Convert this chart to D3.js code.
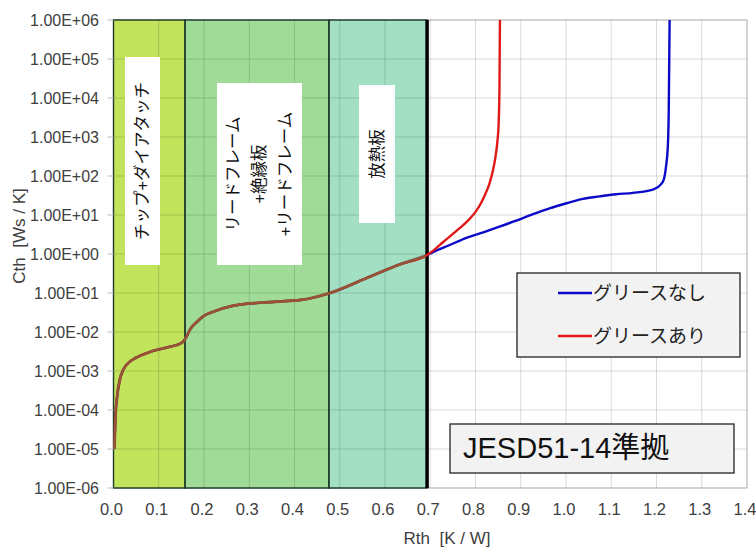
<!DOCTYPE html>
<html>
<head>
<meta charset="utf-8">
<script src="https://cdn.jsdelivr.net/npm/d3@7"></script>
<style>
    body { margin: 0; background: #fff; }
    text { font-family: "Liberation Sans", Arial, "Noto Sans CJK JP", sans-serif; white-space: pre; }
</style>
</head>
<body>
<script>
//shared part of the curve (both series lie on top of each other)
var sharedRth = [0.002, 0.004, 0.008, 0.014, 0.022, 0.035, 0.050, 0.081, 0.125, 0.150, 0.158, 0.170, 0.184, 0.200, 0.220, 0.264, 0.338, 0.412, 0.476, 0.559, 0.633, 0.690];
var sharedCth = [1.0e-5, 6e-5, 2.2e-4, 6e-4, 1.1e-3, 1.7e-3, 2.2e-3, 3.1e-3, 4.2e-3, 5.2e-3, 6.5e-3, 1.2e-2, 1.8e-2, 2.6e-2, 3.3e-2, 4.7e-2, 5.8e-2, 6.6e-2, 9.8e-2, 2.4e-1, 5.4e-1, 9.0e-1];

//tail of series without grease
var blueRth = [0.705, 0.743, 0.780, 0.817, 0.853, 0.890, 0.927, 0.965, 1.001, 1.037, 1.074, 1.111, 1.148, 1.192, 1.214, 1.221, 1.225, 1.227, 1.229];
var blueCth = [1.1, 1.7, 2.6, 3.6, 5.0, 7.2, 10.5, 15, 20, 26, 30, 34, 37, 45, 71, 174, 560, 4000, 1e6];

//tail of series with grease
var redRth = [0.706, 0.728, 0.765, 0.785, 0.800, 0.812, 0.822, 0.831, 0.838, 0.844, 0.848, 0.851, 0.853, 0.854];
var redCth = [1.2, 2.0, 4.6, 7.5, 12, 20, 35, 65, 130, 300, 700, 2000, 20000, 1e6];

//structure regions along Rth
var regionStart = [0, 0.158, 0.476];
var regionEnd = [0.158, 0.476, 0.693];
var regionColors = ["#c2e35c", "#a0dc98", "#a2dfc3"];

var seriesNames = ["グリースなし", "グリースあり"];
var seriesColors = ["#0a0ac8", "#e01818"];

var xTicks = [0, 0.1, 0.2, 0.3, 0.4, 0.5, 0.6, 0.7, 0.8, 0.9, 1.0, 1.1, 1.2, 1.3, 1.4];
var yTicks = [1e-6, 1e-5, 1e-4, 1e-3, 1e-2, 1e-1, 1e0, 1e1, 1e2, 1e3, 1e4, 1e5, 1e6];

function setChart(){
    //frame dimension
    var width = 756,
        height = 549;

    var left = 113.5, right = 747, top = 20, bottom = 488;

    var svg = d3.select("body")
        .append("svg")
        .attr("width", width)
        .attr("height", height);

    //scales
    var x = d3.scaleLinear().domain([0, 1.4]).range([left, right]);
    var y = d3.scaleLog().domain([1e-6, 1e6]).range([bottom, top]);

    //plot frame
    svg.append("rect")
        .attr("x", left).attr("y", top)
        .attr("width", right - left).attr("height", bottom - top)
        .attr("fill", "#fff")
        .attr("stroke", "#c8c8c8");

    //region fills
    svg.selectAll(".region")
        .data(regionStart)
        .enter()
        .append("rect")
        .attr("class", "region")
        .attr("x", function(d){ return x(d); })
        .attr("y", top)
        .attr("width", function(d, i){ return x(regionEnd[i]) - x(d); })
        .attr("height", bottom - top)
        .attr("fill", function(d, i){ return regionColors[i]; });

    //grid lines
    svg.selectAll(".vgrid")
        .data(xTicks)
        .enter()
        .append("line")
        .attr("x1", function(d){ return x(d); })
        .attr("x2", function(d){ return x(d); })
        .attr("y1", top).attr("y2", bottom)
        .attr("stroke", "#000").attr("stroke-opacity", 0.14);

    svg.selectAll(".hgrid")
        .data(yTicks)
        .enter()
        .append("line")
        .attr("x1", left).attr("x2", right)
        .attr("y1", function(d){ return y(d); })
        .attr("y2", function(d){ return y(d); })
        .attr("stroke", "#000").attr("stroke-opacity", 0.14);

    //region outlines
    svg.selectAll(".regionEdge")
        .data(regionStart)
        .enter()
        .append("rect")
        .attr("x", function(d){ return x(d); })
        .attr("y", top)
        .attr("width", function(d, i){ return x(regionEnd[i]) - x(d); })
        .attr("height", bottom - top)
        .attr("fill", "none")
        .attr("stroke", "#1d3a2a")
        .attr("stroke-width", 1.4);

    //thick line at end of heat sink
    svg.append("line")
        .attr("x1", x(regionEnd[2])).attr("x2", x(regionEnd[2]))
        .attr("y1", top).attr("y2", bottom)
        .attr("stroke", "#000").attr("stroke-width", 3.5);

    //region labels (white boxes, vertical text)
    var labelBoxes = [
        {x: 125, y: 57, w: 35, h: 208, lines: ["チップ+ダイアタッチ"]},
        {x: 217, y: 83, w: 85, h: 182, lines: ["リードフレーム", "+絶縁板", "+リードフレーム"]},
        {x: 359, y: 85, w: 36, h: 138, lines: ["放熱板"]}
    ];
    labelBoxes.forEach(function(b){
        svg.append("rect")
            .attr("x", b.x).attr("y", b.y)
            .attr("width", b.w).attr("height", b.h)
            .attr("fill", "#fff");
        var cx = b.x + b.w / 2, cy = b.y + b.h / 2;
        var g = svg.append("g")
            .attr("transform", "translate(" + cx + "," + cy + ") rotate(-90)");
        var n = b.lines.length;
        b.lines.forEach(function(t, i){
            g.append("text")
                .attr("x", 0)
                .attr("y", (i - (n - 1) / 2) * 26)
                .attr("dy", "0.36em")
                .attr("text-anchor", "middle")
                .attr("font-size", 16.5)
                .attr("fill", "#111")
                .text(t);
        });
    });

    //line generator
    var line = d3.line()
        .x(function(d){ return x(d[0]); })
        .y(function(d){ return y(d[1]); })
        .curve(d3.curveMonotoneX);

    var shared = sharedRth.map(function(r, i){ return [r, sharedCth[i]]; });
    var blue = shared.concat(blueRth.map(function(r, i){ return [r, blueCth[i]]; }));
    var red = shared.concat(redRth.map(function(r, i){ return [r, redCth[i]]; }));

    svg.append("path")
        .datum(blue)
        .attr("d", line)
        .attr("fill", "none")
        .attr("stroke", seriesColors[0])
        .attr("stroke-width", 2.4);

    svg.append("path")
        .datum(red)
        .attr("d", line)
        .attr("fill", "none")
        .attr("stroke", seriesColors[1])
        .attr("stroke-width", 2.4);

    //overlapping part looks brownish
    svg.append("path")
        .datum(shared)
        .attr("d", line)
        .attr("fill", "none")
        .attr("stroke", "#7f6a3c")
        .attr("stroke-opacity", 0.7)
        .attr("stroke-width", 3);

    //y axis ticks and labels
    svg.selectAll(".ytick")
        .data(yTicks)
        .enter()
        .append("line")
        .attr("x1", left - 6).attr("x2", left)
        .attr("y1", function(d){ return y(d); })
        .attr("y2", function(d){ return y(d); })
        .attr("stroke", "#bbb");

    svg.selectAll(".ylabel")
        .data(yTicks)
        .enter()
        .append("text")
        .attr("x", 99)
        .attr("y", function(d){ return y(d); })
        .attr("dy", "0.36em")
        .attr("text-anchor", "end")
        .attr("font-size", 16)
        .attr("fill", "#404040")
        .text(function(d){
            var e = Math.round(Math.log10(d));
            var s = Math.abs(e) < 10 ? "0" + Math.abs(e) : "" + Math.abs(e);
            return "1.00E" + (e < 0 ? "-" : "+") + s;
        });

    //x axis labels
    svg.selectAll(".xlabel")
        .data(xTicks)
        .enter()
        .append("text")
        .attr("x", function(d){ return x(d) - 2; })
        .attr("y", 515)
        .attr("text-anchor", "middle")
        .attr("font-size", 16.5)
        .attr("fill", "#404040")
        .text(function(d){ return d3.format(".1f")(d); });

    //axis titles
    svg.append("text")
        .attr("x", 447).attr("y", 544)
        .attr("text-anchor", "middle")
        .attr("font-size", 17)
        .attr("fill", "#404040")
        .text("Rth  [K / W]");

    svg.append("text")
        .attr("transform", "translate(25,236) rotate(-90)")
        .attr("text-anchor", "middle")
        .attr("font-size", 17)
        .attr("fill", "#404040")
        .text("Cth  [Ws / K]");

    //legend
    svg.append("rect")
        .attr("x", 517).attr("y", 273)
        .attr("width", 223).attr("height", 84)
        .attr("fill", "#f2f2f2")
        .attr("stroke", "#222")
        .attr("stroke-width", 1.3);

    seriesNames.forEach(function(name, i){
        var ly = 293 + i * 43;
        svg.append("line")
            .attr("x1", 558).attr("x2", 592)
            .attr("y1", ly).attr("y2", ly)
            .attr("stroke", seriesColors[i])
            .attr("stroke-width", 2.4);
        svg.append("text")
            .attr("x", 593).attr("y", ly)
            .attr("dy", "0.36em")
            .attr("font-size", 19)
            .attr("fill", "#222")
            .text(name);
    });

    //standard note box
    svg.append("rect")
        .attr("x", 450).attr("y", 424)
        .attr("width", 284).attr("height", 49)
        .attr("fill", "#f2f2f2")
        .attr("stroke", "#222")
        .attr("stroke-width", 1.3);

    svg.append("text")
        .attr("x", 463).attr("y", 458)
        .attr("font-size", 29)
        .attr("fill", "#111")
        .text("JESD51-14準拠");
}

window.onload = setChart;
</script>
</body>
</html>
